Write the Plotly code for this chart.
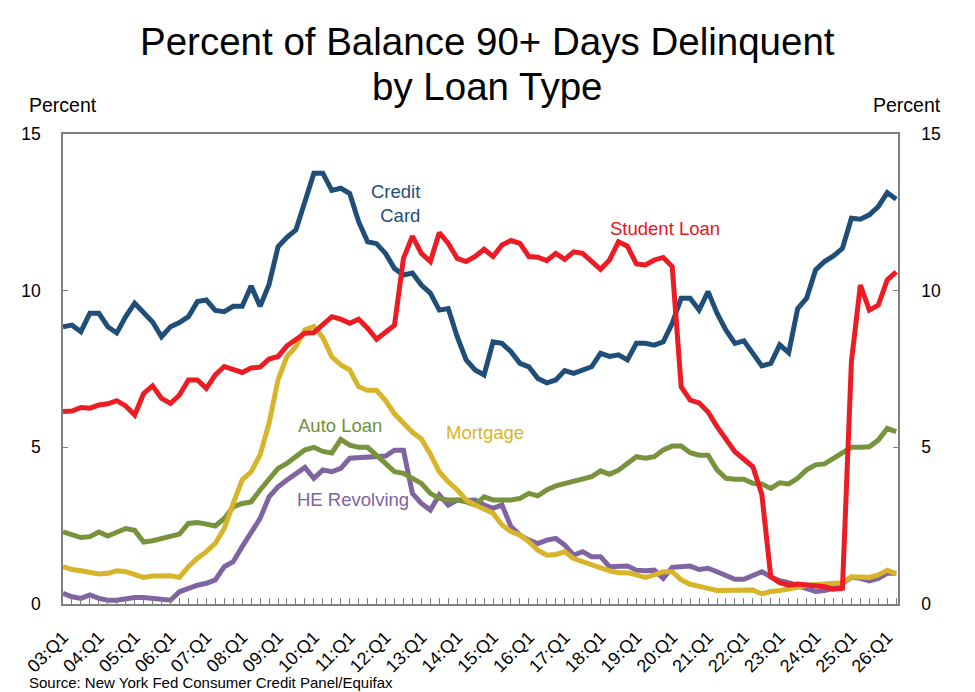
import plotly.graph_objects as go

# quarters 03:Q1 .. 26:Q2
quarters = [f"{y:02d}:Q{q}" for y in range(3, 27) for q in range(1, 5)][:94]
tick_labels = [f"{y:02d}:Q1" for y in range(3, 27)]

credit_card = [8.85, 8.9, 8.69, 9.28, 9.28, 8.85, 8.65, 9.17, 9.6, 9.28, 9.0, 8.53, 8.85, 8.98, 9.17, 9.65,
               9.7, 9.37, 9.33, 9.5, 9.5, 10.15, 9.5, 10.2, 11.4, 11.7, 11.94, 12.84, 13.75, 13.75, 13.2, 13.27,
               13.1, 12.2, 11.56, 11.5, 11.19, 10.71, 10.5, 10.56, 10.18, 9.92, 9.38, 9.43, 8.53, 7.79, 7.47, 7.31,
               8.37, 8.32, 8.05, 7.68, 7.57, 7.2, 7.06, 7.15, 7.45, 7.36, 7.47, 7.57, 8.0, 7.9, 7.95, 7.79,
               8.32, 8.32, 8.26, 8.37, 8.96, 9.76, 9.76, 9.38, 9.97, 9.28, 8.74, 8.32, 8.4, 8.0, 7.6, 7.68,
               8.27, 8.02, 9.43, 9.76, 10.66, 10.93, 11.11, 11.35, 12.31, 12.28, 12.42, 12.68, 13.13, 12.92]
student_loan = [6.14, 6.16, 6.27, 6.25, 6.35, 6.39, 6.49, 6.32, 6.03, 6.72, 6.96, 6.56, 6.4, 6.67, 7.15, 7.15,
                6.88, 7.31, 7.58, 7.49, 7.39, 7.53, 7.56, 7.82, 7.9, 8.24, 8.43, 8.64, 8.66, 8.9, 9.17, 9.09,
                8.96, 9.09, 8.8, 8.45, 8.7, 8.9, 11.03, 11.74, 11.19, 10.93, 11.85, 11.51, 11.03, 10.93, 11.09, 11.32,
                11.09, 11.46, 11.6, 11.51, 11.09, 11.07, 10.96, 11.19, 11.0, 11.24, 11.19, 10.93, 10.68, 10.98, 11.56, 11.42,
                10.85, 10.82, 10.98, 11.06, 10.77, 6.93, 6.51, 6.42, 6.13, 5.66, 5.23, 4.86, 4.62, 4.38, 3.5, 0.87,
                0.68, 0.6, 0.64, 0.6, 0.6, 0.55, 0.47, 0.5, 7.73, 10.18, 9.38, 9.54, 10.34, 10.6]
mortgage = [1.19, 1.1, 1.06, 1.0, 0.96, 0.98, 1.06, 1.03, 0.96, 0.85, 0.89, 0.9, 0.9, 0.85, 1.19, 1.46,
            1.67, 1.94, 2.41, 3.21, 3.96, 4.22, 4.76, 5.77, 7.15, 7.9, 8.22, 8.75, 8.86, 8.5, 7.89, 7.63,
            7.47, 6.93, 6.82, 6.82, 6.49, 6.07, 5.75, 5.48, 5.27, 4.79, 4.22, 3.9, 3.64, 3.32, 3.16, 3.05,
            2.9, 2.52, 2.31, 2.2, 1.99, 1.72, 1.56, 1.58, 1.67, 1.45, 1.35, 1.27, 1.17, 1.06, 1.0, 1.0,
            0.93, 0.85, 0.93, 1.03, 1.03, 0.77, 0.63, 0.58, 0.5, 0.43, 0.43, 0.43, 0.43, 0.45, 0.32, 0.4,
            0.43, 0.47, 0.53, 0.6, 0.63, 0.66, 0.68, 0.68, 0.87, 0.85, 0.85, 0.93, 1.08, 0.96]
auto_loan = [2.3, 2.2, 2.12, 2.15, 2.3, 2.17, 2.27, 2.41, 2.35, 1.98, 2.02, 2.09, 2.15, 2.23, 2.57, 2.6,
             2.55, 2.49, 2.73, 3.1, 3.21, 3.26, 3.64, 3.96, 4.33, 4.49, 4.7, 4.92, 5.0, 4.87, 4.82, 5.25,
             5.07, 5.0, 5.0, 4.76, 4.49, 4.22, 4.17, 4.01, 3.85, 3.53, 3.37, 3.32, 3.32, 3.26, 3.16, 3.42,
             3.32, 3.32, 3.32, 3.37, 3.53, 3.45, 3.64, 3.77, 3.85, 3.94, 3.98, 4.06, 4.25, 4.14, 4.27, 4.49,
             4.7, 4.65, 4.7, 4.92, 5.04, 5.04, 4.83, 4.75, 4.75, 4.28, 4.01, 3.98, 3.98, 3.85, 3.83, 3.69,
             3.87, 3.83, 4.01, 4.28, 4.44, 4.47, 4.65, 4.86, 5.0, 5.0, 5.02, 5.23, 5.6, 5.5]
he_revolving = [0.34, 0.23, 0.18, 0.29, 0.18, 0.12, 0.12, 0.18, 0.21, 0.21, 0.18, 0.12, 0.12, 0.39, 0.5, 0.6,
                0.66, 0.77, 1.19, 1.35, 1.83, 2.26, 2.73, 3.42, 3.74, 3.96, 4.17, 4.36, 4.01, 4.28, 4.22, 4.33,
                4.65, 4.67, 4.7, 4.7, 4.72, 4.91, 4.91, 3.53, 3.21, 3.0, 3.48, 3.16, 3.32, 3.3, 3.32, 3.16,
                3.05, 3.16, 2.47, 2.2, 2.04, 1.93, 2.04, 2.09, 1.88, 1.56, 1.67, 1.51, 1.51, 1.19, 1.19, 1.21,
                1.08, 1.06, 1.08, 0.82, 1.17, 1.21, 1.21, 1.1, 1.14, 1.03, 0.93, 0.79, 0.79, 0.9, 1.03, 0.87,
                0.74, 0.68, 0.6, 0.5, 0.4, 0.43, 0.5, 0.66, 0.85, 0.82, 0.74, 0.82, 0.98, 0.98]

FONT = "Arial, Liberation Sans, sans-serif"
x = list(range(len(quarters)))

series = [
    ("HE Revolving", he_revolving, "#8064A2"),
    ("Auto Loan", auto_loan, "#77933C"),
    ("Mortgage", mortgage, "#D8B42A"),
    ("Credit Card", credit_card, "#1F4E79"),
    ("Student Loan", student_loan, "#EC1C24"),
]

fig = go.Figure()
for name, vals, col in series:
    fig.add_trace(go.Scatter(x=x, y=vals, name=name, mode="lines",
                             line=dict(color=col, width=5), text=quarters,
                             hovertemplate="%{text}: %{y}<extra>" + name + "</extra>"))
# dummy trace so the right-hand axis is drawn
fig.add_trace(go.Scatter(x=[0], y=[0], yaxis="y2", mode="markers",
                         marker=dict(opacity=0), showlegend=False, hoverinfo="skip"))

labels = [
    ("Credit<br>Card", 40.1, 12.77, "#1F4E79", "right", "right"),
    ("Student Loan", 67.2, 11.97, "#E8141C", "center", "center"),
    ("Auto Loan", 30.9, 5.71, "#6E8F3A", "center", "center"),
    ("Mortgage", 47.1, 5.46, "#D8B42A", "center", "center"),
    ("HE Revolving", 32.4, 3.32, "#7E63A0", "center", "center"),
]
for txt, lx, ly, col, xa, al in labels:
    fig.add_annotation(x=lx, y=ly, text=txt, showarrow=False, xanchor=xa, align=al,
                       font=dict(family=FONT, size=18.5, color=col))

# title as two centred lines
fig.add_annotation(xref="paper", yref="paper", x=0.508, y=1.196, text="Percent of Balance 90+ Days Delinquent",
                   showarrow=False, xanchor="center", yanchor="middle",
                   font=dict(family=FONT, size=38.5, color="black"))
fig.add_annotation(xref="paper", yref="paper", x=0.508, y=1.10, text="by Loan Type",
                   showarrow=False, xanchor="center", yanchor="middle",
                   font=dict(family=FONT, size=38.5, color="black"))

fig.add_annotation(xref="paper", yref="paper", x=-0.043, y=1.062, text="Percent",
                   showarrow=False, xanchor="left", yanchor="middle",
                   font=dict(family=FONT, size=19.5, color="black"))
fig.add_annotation(xref="paper", yref="paper", x=1.054, y=1.062, text="Percent",
                   showarrow=False, xanchor="right", yanchor="middle",
                   font=dict(family=FONT, size=19.5, color="black"))
fig.add_annotation(xref="paper", yref="paper", x=-0.043, y=-0.166,
                   text="Source: New York Fed Consumer Credit Panel/Equifax",
                   showarrow=False, xanchor="left", yanchor="middle",
                   font=dict(family=FONT, size=15, color="black"))

fig.update_layout(
    width=967, height=684,
    margin=dict(l=55, r=77, t=126, b=88),
    plot_bgcolor="white", paper_bgcolor="white",
    showlegend=False,
    xaxis=dict(range=[0, 93.2], tickmode="array", tickvals=list(range(0, 94, 4)), ticktext=tick_labels,
               tickangle=-45, ticks="inside", ticklen=6, tickcolor="#808080",
               minor=dict(dtick=1, tick0=0, ticks="inside", ticklen=6, tickcolor="#808080"),
               showgrid=False, zeroline=False, showline=True, linecolor="#808080", linewidth=1.5, mirror=True,
               ticklabelstandoff=14, tickfont=dict(family=FONT, size=18, color="black")),
    yaxis=dict(range=[0, 15], tickvals=[0, 5, 10, 15], ticks="inside", ticklen=5, tickcolor="#808080",
               showgrid=False, zeroline=False, showline=True, linecolor="#808080", linewidth=1.5,
               ticklabelstandoff=17, tickfont=dict(family=FONT, size=17.5, color="black")),
    yaxis2=dict(range=[0, 15], tickvals=[0, 5, 10, 15], overlaying="y", side="right", ticks="inside",
                ticklen=5, tickcolor="#808080", showgrid=False, zeroline=False, showline=True,
                linecolor="#808080", linewidth=1.5, ticklabelstandoff=18,
                tickfont=dict(family=FONT, size=17.5, color="black")),
)

fig.write_html("out.html")
